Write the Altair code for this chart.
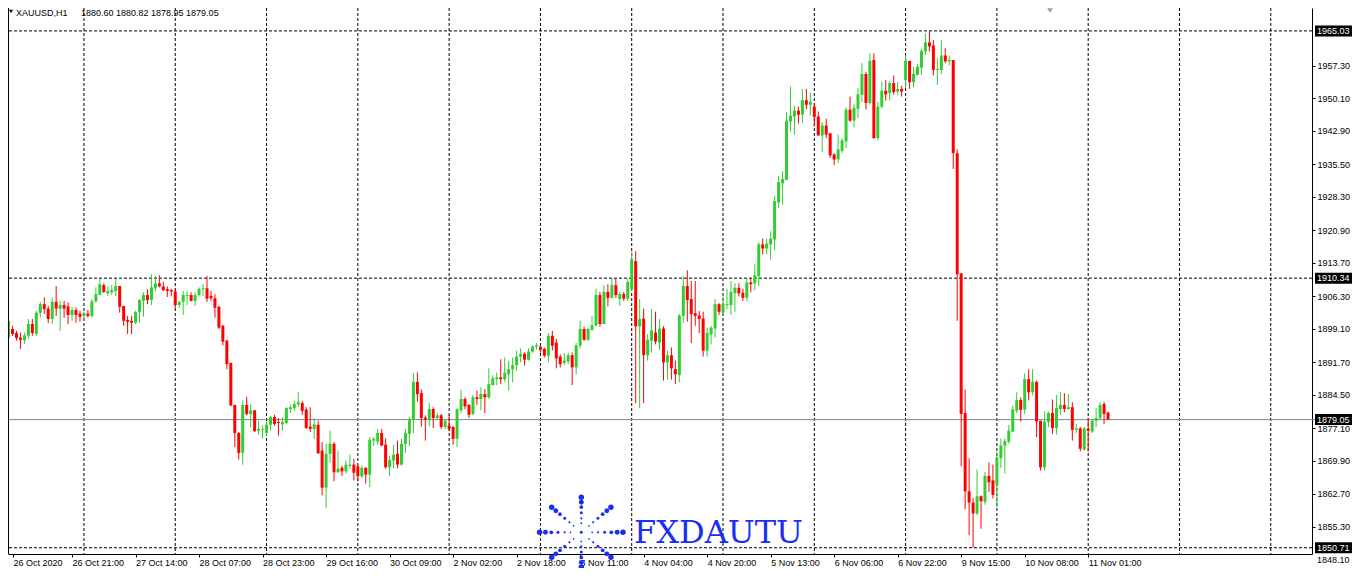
import json
import math
import altair as alt
import pandas as pd

# ---------------- data ----------------
OPEN = [
    1897.2, 1899.1, 1898.2, 1897.2, 1896.6, 1897.6, 1900.2, 1898.0, 1902.7, 1904.6,
    1903.6, 1901.3, 1905.1, 1903.6, 1904.4, 1904.1, 1902.2, 1903.3, 1902.5, 1902.0,
    1902.5, 1902.0, 1905.2, 1906.6, 1908.8, 1907.0, 1907.2, 1907.5, 1908.6, 1904.2,
    1901.1, 1900.9, 1900.5, 1902.9, 1905.3, 1906.6, 1905.5, 1908.1, 1909.2, 1908.5,
    1907.9, 1907.7, 1907.4, 1904.4, 1905.1, 1906.4, 1906.6, 1905.3, 1906.6, 1907.9,
    1908.1, 1906.4, 1905.9, 1904.0, 1899.8, 1896.5, 1891.6, 1882.3, 1876.1, 1871.7,
    1882.3, 1880.3, 1881.1, 1876.6, 1876.8, 1876.1, 1877.9, 1879.6, 1878.5, 1878.0,
    1878.3, 1881.4, 1881.6, 1882.4, 1882.7, 1881.3, 1877.5, 1877.0, 1877.9, 1872.2,
    1864.0, 1871.5, 1873.7, 1867.4, 1868.4, 1867.6, 1868.8, 1869.1, 1868.7, 1866.5,
    1868.4, 1866.9, 1874.4, 1874.2, 1876.1, 1873.5, 1868.5, 1870.0, 1871.5, 1869.1,
    1873.7, 1875.9, 1879.0, 1887.4, 1884.9, 1879.5, 1879.1, 1881.4, 1879.4, 1880.0,
    1877.4, 1877.7, 1877.4, 1874.8, 1881.1, 1883.6, 1882.3, 1880.3, 1884.0, 1883.6,
    1884.7, 1884.0, 1886.7, 1888.0, 1888.4, 1888.0, 1889.1, 1890.2, 1891.1, 1893.0,
    1893.6, 1892.3, 1894.1, 1895.2, 1895.2, 1894.7, 1893.2, 1897.6, 1896.1, 1893.0,
    1891.6, 1891.9, 1893.3, 1890.6, 1895.4, 1899.1, 1896.7, 1898.9, 1899.9, 1906.6,
    1900.2, 1907.3, 1906.0, 1908.8, 1905.7, 1906.8, 1905.8, 1907.9, 1914.1, 1899.7,
    1901.4, 1893.3, 1896.5, 1898.3, 1896.1, 1899.2, 1891.7, 1893.3, 1890.2, 1888.9,
    1902.0, 1908.6, 1905.7, 1902.6, 1902.1, 1901.4, 1894.3, 1897.9, 1899.2, 1904.6,
    1902.7, 1904.4, 1904.4, 1907.0, 1908.2, 1907.1, 1906.0, 1909.4, 1909.2, 1910.8,
    1917.8, 1916.9, 1917.8, 1918.9, 1927.1, 1931.3, 1932.1, 1945.0, 1946.1, 1947.4,
    1946.5, 1949.7, 1948.7, 1948.3, 1946.1, 1941.9, 1944.1, 1942.4, 1937.7, 1936.6,
    1938.5, 1940.6, 1947.6, 1945.2, 1947.8, 1950.9, 1955.5, 1949.1, 1958.6, 1941.3,
    1948.3, 1951.8, 1951.3, 1953.5, 1951.6, 1952.2, 1954.2, 1958.4, 1953.7, 1955.3,
    1956.9, 1960.5, 1962.5, 1961.8, 1956.4, 1956.4, 1959.6, 1958.3, 1958.6, 1938.0,
    1911.4, 1880.5, 1863.2, 1860.7, 1858.3, 1862.1, 1860.8, 1866.6, 1865.6, 1864.7,
    1870.5, 1873.3, 1874.2, 1876.4, 1881.0, 1883.4, 1881.3, 1888.0, 1885.1, 1887.4,
    1878.8, 1868.5, 1878.5, 1880.5, 1877.2, 1881.4, 1882.3, 1881.4, 1881.8, 1876.8,
    1877.1, 1872.4, 1877.0, 1876.4, 1878.8, 1879.4, 1882.5, 1880.60,
]
HIGH = [
    1901.3, 1899.8, 1898.7, 1898.3, 1898.3, 1901.3, 1901.3, 1903.1, 1905.1, 1906.1,
    1904.2, 1906.1, 1908.6, 1905.3, 1905.3, 1905.0, 1903.9, 1903.9, 1903.1, 1902.9,
    1903.3, 1905.7, 1908.3, 1910.2, 1909.2, 1908.5, 1908.8, 1910.2, 1908.6, 1904.2,
    1902.0, 1902.0, 1903.1, 1905.7, 1907.2, 1907.9, 1911.2, 1910.8, 1911.0, 1909.5,
    1908.5, 1908.0, 1907.9, 1905.3, 1907.5, 1907.5, 1907.2, 1907.2, 1908.3, 1909.0,
    1910.8, 1907.5, 1906.8, 1904.2, 1900.0, 1896.7, 1891.6, 1882.3, 1876.3, 1883.3,
    1884.1, 1882.5, 1881.2, 1878.8, 1877.7, 1878.8, 1879.9, 1880.1, 1879.4, 1879.6,
    1881.8, 1882.4, 1883.2, 1885.1, 1883.2, 1881.8, 1881.8, 1879.4, 1878.8, 1874.1,
    1873.7, 1876.6, 1874.1, 1872.2, 1868.9, 1870.0, 1871.3, 1870.4, 1869.1, 1868.9,
    1868.5, 1875.2, 1875.2, 1877.0, 1877.0, 1874.9, 1871.1, 1873.5, 1874.4, 1874.8,
    1877.0, 1879.6, 1889.4, 1889.5, 1885.7, 1880.0, 1882.7, 1881.8, 1880.5, 1880.3,
    1879.1, 1880.1, 1877.7, 1881.6, 1885.7, 1884.0, 1882.5, 1884.5, 1885.5, 1886.2,
    1885.8, 1890.4, 1888.9, 1889.5, 1892.4, 1892.8, 1892.1, 1892.8, 1894.3, 1894.8,
    1893.9, 1894.8, 1895.5, 1896.0, 1895.5, 1895.0, 1898.2, 1898.7, 1896.9, 1893.5,
    1893.8, 1893.8, 1893.9, 1896.0, 1900.9, 1899.6, 1899.4, 1902.0, 1908.0, 1907.3,
    1908.8, 1909.0, 1910.2, 1910.2, 1907.3, 1907.3, 1910.2, 1916.2, 1916.3, 1905.7,
    1903.6, 1898.0, 1903.5, 1902.9, 1901.3, 1899.7, 1894.3, 1895.0, 1892.1, 1902.4,
    1910.8, 1912.1, 1909.7, 1909.7, 1903.1, 1902.9, 1899.4, 1899.8, 1905.7, 1904.8,
    1906.3, 1908.0, 1909.7, 1909.2, 1909.2, 1908.0, 1910.2, 1910.2, 1913.4, 1918.3,
    1919.1, 1919.1, 1920.7, 1928.5, 1932.9, 1934.0, 1947.0, 1952.7, 1948.5, 1948.3,
    1952.2, 1952.2, 1951.4, 1949.1, 1947.2, 1944.8, 1945.6, 1942.4, 1938.0, 1942.1,
    1941.3, 1948.1, 1950.5, 1948.8, 1952.4, 1957.9, 1956.0, 1960.1, 1960.1, 1949.3,
    1953.8, 1954.2, 1954.0, 1955.2, 1953.8, 1952.9, 1959.7, 1958.4, 1957.1, 1957.7,
    1961.0, 1964.5, 1965.03, 1963.0, 1959.0, 1963.0, 1961.2, 1959.6, 1958.6, 1938.8,
    1911.4, 1885.7, 1870.5, 1861.7, 1868.0, 1862.3, 1867.5, 1869.6, 1869.1, 1871.9,
    1874.9, 1874.9, 1877.9, 1882.1, 1885.1, 1884.0, 1889.3, 1890.2, 1890.2, 1887.7,
    1878.8, 1880.8, 1880.8, 1883.5, 1884.5, 1885.2, 1884.9, 1884.7, 1882.9, 1878.1,
    1877.4, 1877.4, 1879.3, 1879.2, 1881.6, 1882.9, 1883.0, 1880.82,
]
LOW = [
    1896.9, 1897.6, 1896.5, 1894.7, 1895.8, 1896.9, 1897.6, 1897.6, 1901.6, 1902.4,
    1900.4, 1900.2, 1902.0, 1898.7, 1901.6, 1900.2, 1900.9, 1900.5, 1900.7, 1901.3,
    1901.6, 1901.6, 1905.0, 1906.6, 1907.0, 1906.4, 1906.6, 1906.4, 1902.7, 1899.8,
    1898.0, 1898.0, 1900.2, 1900.5, 1901.8, 1904.6, 1904.4, 1907.3, 1908.3, 1907.5,
    1906.2, 1906.3, 1903.6, 1903.8, 1902.2, 1904.4, 1905.2, 1904.2, 1906.3, 1906.4,
    1905.1, 1905.3, 1901.6, 1899.1, 1895.5, 1890.2, 1882.0, 1873.0, 1870.2, 1869.1,
    1880.0, 1877.3, 1876.3, 1875.7, 1874.8, 1875.5, 1876.6, 1877.7, 1875.5, 1876.6,
    1878.1, 1880.5, 1881.0, 1881.8, 1880.1, 1877.0, 1876.3, 1874.8, 1871.5, 1862.3,
    1859.5, 1869.5, 1865.4, 1867.3, 1866.6, 1867.1, 1868.2, 1865.6, 1865.4, 1866.1,
    1864.9, 1864.1, 1873.2, 1873.5, 1873.2, 1868.2, 1866.5, 1868.3, 1868.3, 1868.9,
    1871.7, 1873.2, 1876.1, 1883.0, 1877.5, 1874.4, 1877.6, 1877.2, 1879.2, 1877.0,
    1877.0, 1876.6, 1873.5, 1873.0, 1880.5, 1881.4, 1879.4, 1880.0, 1882.3, 1881.1,
    1880.5, 1883.6, 1886.6, 1886.7, 1886.9, 1887.4, 1885.5, 1887.3, 1889.9, 1891.7,
    1891.0, 1892.1, 1893.8, 1894.5, 1893.9, 1892.8, 1891.7, 1894.3, 1890.4, 1890.6,
    1891.1, 1891.3, 1886.7, 1889.1, 1894.8, 1896.5, 1896.5, 1898.7, 1899.6, 1899.6,
    1900.2, 1904.1, 1905.8, 1906.0, 1904.2, 1905.3, 1905.3, 1907.5, 1882.7, 1881.6,
    1882.7, 1892.1, 1893.9, 1895.7, 1894.5, 1887.7, 1887.9, 1887.9, 1886.9, 1887.3,
    1900.4, 1900.7, 1896.0, 1899.8, 1898.2, 1893.0, 1893.0, 1895.7, 1897.2, 1902.2,
    1902.0, 1903.5, 1902.2, 1902.9, 1906.3, 1905.3, 1905.3, 1907.2, 1907.7, 1908.6,
    1915.6, 1915.6, 1914.4, 1916.6, 1925.9, 1926.6, 1932.1, 1942.8, 1942.1, 1944.5,
    1944.7, 1947.7, 1946.3, 1943.9, 1941.9, 1938.2, 1941.3, 1936.9, 1935.3, 1935.8,
    1938.0, 1939.1, 1944.9, 1943.7, 1945.8, 1949.3, 1947.6, 1948.7, 1941.2, 1940.8,
    1947.9, 1949.6, 1949.6, 1950.9, 1950.8, 1950.5, 1952.4, 1952.2, 1952.5, 1955.2,
    1955.3, 1959.7, 1960.5, 1955.2, 1953.1, 1955.5, 1957.9, 1957.4, 1934.5, 1900.9,
    1868.7, 1859.2, 1853.5, 1850.71, 1857.9, 1854.9, 1860.2, 1863.0, 1861.6, 1859.7,
    1868.3, 1867.1, 1873.7, 1876.3, 1880.5, 1878.6, 1880.3, 1883.3, 1884.4, 1875.2,
    1867.8, 1867.8, 1877.4, 1875.9, 1875.7, 1880.1, 1880.7, 1881.3, 1874.4, 1876.1,
    1872.0, 1872.2, 1872.0, 1876.1, 1877.4, 1879.0, 1878.1, 1878.95,
]
CLOSE = [
    1900.9, 1898.0, 1897.1, 1896.7, 1897.7, 1900.2, 1898.2, 1902.7, 1904.6, 1903.5,
    1901.3, 1905.1, 1903.6, 1904.4, 1903.6, 1902.2, 1903.3, 1902.2, 1901.8, 1902.5,
    1902.0, 1905.2, 1906.8, 1909.0, 1907.3, 1907.5, 1907.7, 1908.6, 1904.0, 1900.9,
    1900.7, 1900.5, 1902.9, 1905.5, 1906.6, 1905.5, 1908.3, 1909.2, 1908.5, 1907.7,
    1907.5, 1907.4, 1904.4, 1905.1, 1906.6, 1906.6, 1905.3, 1906.6, 1908.0, 1908.1,
    1905.8, 1905.9, 1903.8, 1899.4, 1896.3, 1891.3, 1882.2, 1876.1, 1871.7, 1882.3,
    1880.3, 1881.1, 1876.5, 1877.0, 1877.0, 1877.9, 1879.6, 1878.1, 1878.3, 1878.5,
    1881.6, 1881.8, 1882.5, 1882.9, 1881.0, 1877.2, 1877.0, 1878.0, 1871.6, 1864.0,
    1871.5, 1873.7, 1867.4, 1868.2, 1867.6, 1869.1, 1869.1, 1867.3, 1866.5, 1868.4,
    1866.9, 1874.6, 1874.8, 1876.1, 1873.3, 1868.5, 1870.1, 1871.3, 1869.1, 1873.7,
    1876.1, 1879.2, 1887.4, 1884.7, 1879.4, 1879.1, 1881.4, 1879.4, 1880.0, 1877.4,
    1878.8, 1877.0, 1874.8, 1881.3, 1883.6, 1882.0, 1880.1, 1884.0, 1883.6, 1884.7,
    1884.0, 1886.9, 1888.2, 1888.4, 1888.0, 1889.4, 1890.2, 1891.1, 1893.0, 1893.6,
    1892.3, 1894.1, 1895.2, 1895.5, 1894.5, 1893.2, 1897.6, 1895.4, 1892.6, 1891.3,
    1892.1, 1893.3, 1890.6, 1895.5, 1899.1, 1896.7, 1899.1, 1899.9, 1906.6, 1900.2,
    1907.3, 1906.0, 1908.8, 1906.6, 1906.8, 1905.8, 1909.5, 1914.5, 1899.7, 1901.3,
    1893.3, 1896.7, 1898.8, 1896.3, 1899.2, 1891.7, 1893.3, 1890.4, 1889.1, 1902.1,
    1908.6, 1905.5, 1902.4, 1902.0, 1901.3, 1894.3, 1898.2, 1899.4, 1904.6, 1902.9,
    1904.6, 1904.6, 1907.3, 1908.2, 1907.0, 1906.0, 1909.4, 1909.0, 1911.0, 1917.8,
    1916.9, 1918.0, 1919.1, 1927.4, 1931.6, 1932.3, 1945.2, 1946.3, 1947.4, 1946.5,
    1949.7, 1948.7, 1949.4, 1946.0, 1941.9, 1944.1, 1942.1, 1937.5, 1936.6, 1938.8,
    1940.8, 1947.6, 1945.2, 1948.0, 1951.0, 1955.5, 1949.1, 1958.4, 1941.3, 1948.3,
    1951.8, 1951.0, 1953.5, 1951.5, 1952.2, 1951.6, 1958.4, 1953.7, 1955.5, 1957.1,
    1960.6, 1962.5, 1961.6, 1956.4, 1956.6, 1959.6, 1958.3, 1958.6, 1938.0, 1911.2,
    1880.3, 1863.2, 1860.7, 1858.3, 1862.1, 1861.0, 1866.6, 1865.2, 1862.4, 1870.7,
    1873.3, 1874.3, 1876.6, 1881.3, 1883.4, 1881.2, 1888.0, 1885.1, 1887.4, 1878.6,
    1868.5, 1878.6, 1880.5, 1877.2, 1881.6, 1882.3, 1881.4, 1881.8, 1876.8, 1877.1,
    1872.6, 1877.1, 1876.6, 1878.8, 1879.4, 1882.3, 1880.3, 1879.05,
]

TIME_LABELS = [
    "26 Oct 2020", "26 Oct 21:00", "27 Oct 14:00", "28 Oct 07:00", "28 Oct 23:00",
    "29 Oct 16:00", "30 Oct 09:00", "2 Nov 02:00", "2 Nov 18:00", "3 Nov 11:00",
    "4 Nov 04:00", "4 Nov 20:00", "5 Nov 13:00", "6 Nov 06:00", "6 Nov 22:00",
    "9 Nov 15:00", "10 Nov 08:00", "11 Nov 01:00",
]
LABEL_STEP = 16  # bars between time labels

Y_TICKS = [1957.30, 1950.10, 1942.90, 1935.50, 1928.30, 1920.90, 1913.70, 1906.30,
           1899.10, 1891.70, 1884.50, 1877.10, 1869.90, 1862.70, 1855.30]
LOWEST_TICK = 1848.10   # printed just below the plot's bottom edge

GRID_BARS = [19, 42, 65, 88, 111, 134, 157, 180, 203, 226, 249, 272, 295, 318]
LEVEL_PRICES = [1965.03, 1910.34, 1850.71]
BID_PRICE = 1879.05
BOX_PRICES = [1965.03, 1910.34, 1879.05, 1850.71]

SYMBOL = "XAUUSD,H1"
LAST_OHLC = "1880.60 1880.82 1878.95 1879.05"
LOGO_TEXT = "FXDAUTU"

# logo star (decoration): arms in degrees, arm length in px, dot placement along arm
LOGO_CENTER_BAR = 144.3
LOGO_CENTER_PRICE = 1854.13
ARM_ANGLES = [0, 40, 90, 140, 180, 220, 270, 320]
ARM_LENGTHS = [42, 39, 35, 39, 42, 39, 35, 39]
DOT_FRACTIONS = [1.0, 0.86, 0.72, 0.56, 0.40, 0.26]
DOT_SIZES = [30, 24, 14, 9, 5, 3]

# ---------------- layout ----------------
W, H = 1304, 546
PX_PER_BAR = 4.0
PRICE_PER_PX = 0.2212
X_START = 1.125                      # bar index at the left edge of the plot
X_DOMAIN = [X_START, X_START + W / PX_PER_BAR]
Y_TOP = 1970.1
Y_DOMAIN = [Y_TOP - H * PRICE_PER_PX, Y_TOP]

FONT = "Liberation Sans"
BULL = "#32cd32"
BEAR = "#ff0000"
LOGO_BLUE = "#1c2ef2"
BID_COLOR = "#778899"

candles = pd.DataFrame({
    "i": list(range(len(OPEN))),
    "open": OPEN, "high": HIGH, "low": LOW, "close": CLOSE,
})
candles["dir"] = ["up" if c >= o else "down" for o, c in zip(OPEN, CLOSE)]

xs = alt.Scale(domain=X_DOMAIN, nice=False, zero=False)
ys = alt.Scale(domain=Y_DOMAIN, nice=False, zero=False)
color = alt.Color("dir:N", scale=alt.Scale(domain=["up", "down"], range=[BULL, BEAR]), legend=None)

label_expr = json.dumps(TIME_LABELS) + f"[round(datum.value / {LABEL_STEP})]"
x_values = [X_START] + [k * LABEL_STEP for k in range(1, len(TIME_LABELS))]
X_AXIS = alt.Axis(
    values=x_values, labelExpr=label_expr,
    title=None, grid=False, tickSize=3, tickColor="black", domainColor="black",
    labelAlign="left", labelBaseline="top", labelPadding=1, labelFont=FONT,
    labelFontSize=9, labelColor="black", labelOverlap=False, labelBound=False,
    labelFlush=False,
)
Y_AXIS = alt.Axis(
    orient="right", values=Y_TICKS, format=".2f", title=None, grid=False,
    tickSize=3, tickColor="black", domainColor="black", labelPadding=2,
    labelFont=FONT, labelFontSize=9, labelColor="black", labelOverlap=False,
    labelBound=False, labelFlush=False,
)


def X(field):
    return alt.X(field, scale=xs, axis=X_AXIS, title=None)


def Y(field):
    return alt.Y(field, scale=ys, axis=Y_AXIS, title=None)


vgrid = alt.Chart(pd.DataFrame({"i": GRID_BARS})).mark_rule(
    color="black", strokeWidth=1, strokeDash=[3, 2]
).encode(x=X("i:Q"))

hgrid = alt.Chart(pd.DataFrame({"p": LEVEL_PRICES})).mark_rule(
    color="black", strokeWidth=1, strokeDash=[3, 2]
).encode(y=Y("p:Q"))

bid = alt.Chart(pd.DataFrame({"p": [BID_PRICE]})).mark_rule(
    color=BID_COLOR, strokeWidth=1
).encode(y=Y("p:Q"), x=alt.value(0), x2=alt.value(W + 3))

wicks = alt.Chart(candles).mark_rule(strokeWidth=1).encode(
    x=X("i:Q"), y=Y("low:Q"), y2="high:Q", color=color,
)
bodies = alt.Chart(candles).mark_bar(size=3).encode(
    x=X("i:Q"), y=Y("open:Q"), y2="close:Q", color=color,
)

# logo star dots
dots = [{"bx": LOGO_CENTER_BAR, "py": LOGO_CENTER_PRICE, "s": 9}]
for ang, length in zip(ARM_ANGLES, ARM_LENGTHS):
    for frac, size in zip(DOT_FRACTIONS, DOT_SIZES):
        r = length * frac
        dots.append({
            "bx": LOGO_CENTER_BAR + r * math.cos(math.radians(ang)) / PX_PER_BAR,
            "py": LOGO_CENTER_PRICE + r * math.sin(math.radians(ang)) * PRICE_PER_PX,
            "s": size,
        })
logo_dots = alt.Chart(pd.DataFrame(dots)).mark_circle(color=LOGO_BLUE, opacity=1).encode(
    x=X("bx:Q"), y=Y("py:Q"),
    size=alt.Size("s:Q", scale=None, legend=None),
)
logo_text = alt.Chart(pd.DataFrame({"t": [LOGO_TEXT]})).mark_text(
    font="DejaVu Serif", fontSize=32, color=LOGO_BLUE, align="left", baseline="alphabetic"
).encode(text="t:N", x=alt.value(626), y=alt.value(535))

header_tri = alt.Chart(pd.DataFrame({"t": [0]})).mark_point(
    shape="triangle-down", filled=True, color="black", size=16, opacity=1
).encode(x=alt.value(3), y=alt.value(3.5))
header_sym = alt.Chart(pd.DataFrame({"t": [SYMBOL]})).mark_text(
    font=FONT, fontSize=9, color="black", align="left", baseline="alphabetic"
).encode(text="t:N", x=alt.value(8), y=alt.value(7.5))
header_ohlc = alt.Chart(pd.DataFrame({"t": [LAST_OHLC]})).mark_text(
    font=FONT, fontSize=9, color="black", align="left", baseline="alphabetic"
).encode(text="t:N", x=alt.value(73), y=alt.value(7.5))

shift_marker = alt.Chart(pd.DataFrame({"t": [0]})).mark_point(
    shape="triangle-down", filled=True, color="#9a9a9a", size=30, opacity=1
).encode(x=alt.value(1042), y=alt.value(2.5))

lowest_label = alt.Chart(pd.DataFrame({"p": [LOWEST_TICK]})).mark_text(
    font=FONT, fontSize=9, color="black", align="left", baseline="middle"
).encode(y=Y("p:Q"), x=alt.value(W + 5), text=alt.Text("p:Q", format=".2f"))

boxes = alt.Chart(pd.DataFrame({"p": BOX_PRICES})).mark_rule(
    color="black", strokeWidth=11
).encode(y=Y("p:Q"), x=alt.value(W + 3), x2=alt.value(W + 40))
box_text = alt.Chart(pd.DataFrame({"p": BOX_PRICES})).mark_text(
    font=FONT, fontSize=9, color="white", align="left", baseline="middle"
).encode(y=Y("p:Q"), x=alt.value(W + 5), text=alt.Text("p:Q", format=".2f"))

left_border = alt.Chart(pd.DataFrame({"t": [0]})).mark_rule(color="black", strokeWidth=1).encode(
    x=alt.value(0.5), y=alt.value(0), y2=alt.value(H)
)

chart = alt.layer(
    vgrid, hgrid, bid, wicks, bodies, logo_dots, logo_text,
    header_tri, header_sym, header_ohlc, shift_marker, lowest_label,
    boxes, box_text, left_border,
).properties(
    width=W, height=H,
    padding={"left": 0, "top": 0, "right": 40, "bottom": 14},
    autosize=alt.AutoSizeParams(type="none"),
    background="white",
).configure_view(stroke=None)

chart.save("out.html", embed_options={"renderer": "svg", "actions": False})
